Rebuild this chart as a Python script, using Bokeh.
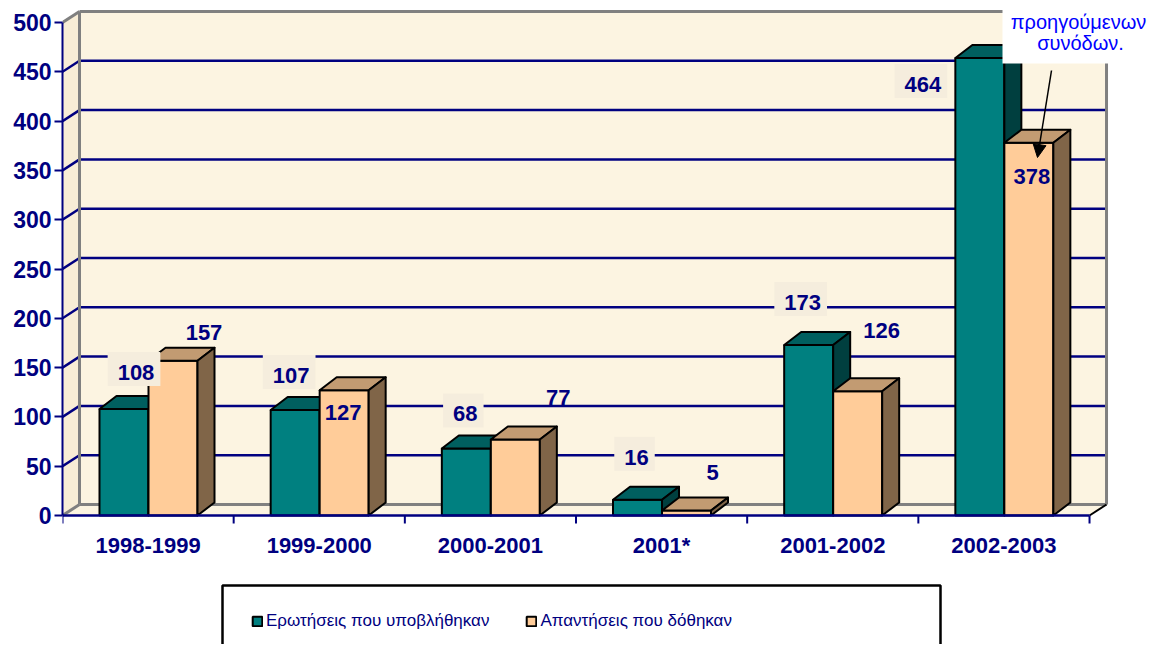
from bokeh.plotting import figure
from bokeh.models import Range1d, FixedTicker, Legend, LegendItem, Arrow, NormalHead
from bokeh.core.properties import value
from bokeh.embed import file_html
from bokeh.resources import INLINE

# ---------------- data ----------------
categories = ["1998-1999", "1999-2000", "2000-2001", "2001*", "2001-2002", "2002-2003"]
questions = [108, 107, 68, 16, 173, 464]
answers = [157, 127, 77, 5, 126, 378]
y_ticks = [0, 50, 100, 150, 200, 250, 300, 350, 400, 450, 500]
series_labels = ["Ερωτήσεις που υποβλήθηκαν", "Απαντήσεις που δόθηκαν"]
note_lines = ["προηγούμενων", "συνόδων."]

# label placement offsets in screen pixels (positive dy = down)
q_label_dx = [10, -6, -3, -3, -8, -59]
q_label_dy = [-40, -38, -38, -46, -46, 23]
a_label_dx = [31, -1, 43, 26, 24, 3]
a_label_dy = [-28, 22, -42, -38, -61, 34]

# ---------------- layout / style ----------------
W, H = 1150, 644
AXIS_W = 62            # left axis panel width (canvas px)
PX_CAT = 171.17        # px per category
PX_UNIT = 0.986        # px per value unit
ZERO_CANVAS = 515      # canvas y of value 0
MARGIN = 0

NAVY = "#000080"
GRAY = "#808080"
WALL = "#FCF4E1"
SIDE_WALL = "#F8EDD6"
FONT = value("Liberation Sans")

TEAL = ("#008080", "#005F5F", "#003F3F")
PEACH = ("#FFCC99", "#C29B72", "#806548")

n = len(categories)
OFF = 37 / PX_CAT
BW = 49 / PX_CAT
DX = 17 / PX_CAT
DYB = 13 / PX_UNIT
DYW = 11 / PX_UNIT
TICK = 8 / PX_UNIT
top_val = y_ticks[-1]


def sx(px):  # screenshot px -> data x
    return (px - MARGIN - AXIS_W) / PX_CAT


def sy(py):  # screenshot px -> data y
    return (ZERO_CANVAS - (py - MARGIN)) / PX_UNIT


p = figure(width=W, height=H, output_backend="svg", toolbar_location=None,
           x_axis_location=None,
           x_range=Range1d(0, (W - AXIS_W) / PX_CAT),
           y_range=Range1d(-(H - ZERO_CANVAS) / PX_UNIT, ZERO_CANVAS / PX_UNIT),
           min_border_left=AXIS_W, min_border_right=0, min_border_top=0, min_border_bottom=0)
p.outline_line_color = None
p.background_fill_color = "white"
p.border_fill_color = "white"
p.xgrid.visible = False
p.ygrid.visible = False

# y axis
ax = p.yaxis[0]
ax.ticker = FixedTicker(ticks=y_ticks)
ax.bounds = (y_ticks[0], top_val)
ax.axis_line_color = NAVY
ax.axis_line_width = 2
ax.major_tick_line_color = NAVY
ax.major_tick_line_width = 2
ax.major_tick_out = 8
ax.major_tick_in = 0
ax.minor_tick_line_color = None
ax.major_label_standoff = 3
ax.major_label_text_font = "Liberation Sans"
ax.major_label_text_font_style = "bold"
ax.major_label_text_font_size = "23px"
ax.major_label_text_color = NAVY

# walls
p.quad(left=DX, right=n + DX, bottom=DYW, top=top_val + DYW, fill_color=WALL, line_color=None)
p.patch([0, DX, DX, 0], [0, DYW, top_val + DYW, top_val], fill_color=SIDE_WALL, line_color=None)
p.patch([0, n, n + DX, DX], [0, 0, DYW, DYW], fill_color=WALL, line_color=None)

inner = y_ticks[1:-1]
p.segment(x0=[DX] * len(inner), x1=[n + DX] * len(inner),
          y0=[v + DYW for v in inner], y1=[v + DYW for v in inner],
          line_color=NAVY, line_width=2.5)
p.segment(x0=[0] * len(inner), x1=[DX] * len(inner),
          y0=inner, y1=[v + DYW for v in inner], line_color=NAVY, line_width=2.5)

p.multi_line(xs=[[DX, n + DX], [DX, DX], [n + DX, n + DX], [DX, n + DX], [0, DX], [0, DX]],
             ys=[[top_val + DYW] * 2, [DYW, top_val + DYW], [DYW, top_val + DYW], [DYW, DYW],
                 [top_val, top_val + DYW], [0, DYW]],
             line_color=GRAY, line_width=3)
p.segment(x0=[n], y0=[0], x1=[n + DX], y1=[DYW], line_color="black", line_width=2)


# bars
def parts(vals, s):
    fr_x, fr_y, tp_x, tp_y, sd_x, sd_y = [], [], [], [], [], []
    for i, v in enumerate(vals):
        x0 = i + OFF + s * BW
        x1 = x0 + BW
        fr_x.append([x0, x1, x1, x0]); fr_y.append([0, 0, v, v])
        tp_x.append([x0, x1, x1 + DX, x0 + DX]); tp_y.append([v, v, v + DYB, v + DYB])
        sd_x.append([x1, x1 + DX, x1 + DX, x1]); sd_y.append([0, DYB, v + DYB, v])
    return fr_x, fr_y, tp_x, tp_y, sd_x, sd_y


renderers = []
for s, (vals, cols) in enumerate([(questions, TEAL), (answers, PEACH)]):
    fx, fy, tx, ty, dx_, dy_ = parts(vals, s)
    r = p.patches(fx, fy, fill_color=cols[0], line_color="black", line_width=2)
    p.patches(tx, ty, fill_color=cols[1], line_color="black", line_width=2, line_join="round")
    p.patches(dx_, dy_, fill_color=cols[2], line_color="black", line_width=2, line_join="round")
    renderers.append(r)

# x axis
p.segment(x0=[0], y0=[0], x1=[n], y1=[0], line_color=NAVY, line_width=2.5)
p.segment(x0=list(range(n + 1)), y0=[0] * (n + 1), x1=list(range(n + 1)), y1=[-TICK] * (n + 1),
          line_color=NAVY, line_width=2)
p.text(x=[i + 0.5 for i in range(n)], y=[0] * n, text=categories, y_offset=30,
       text_align="center", text_baseline="middle", text_font=FONT, text_font_style="bold",
       text_font_size="22px", text_color=NAVY)

# data labels
q_x = [i + OFF + 0.5 * BW for i in range(n)]
a_x = [i + OFF + 1.5 * BW for i in range(n)]
p.text(x=q_x, y=questions, text=[str(v) for v in questions], x_offset=q_label_dx, y_offset=q_label_dy,
       text_align="center", text_baseline="middle", text_font=FONT, text_font_style="bold",
       text_font_size="22px", text_color=NAVY, background_fill_color="#F5EDDD",
       padding=(10, 6, 13, 6))
p.text(x=a_x, y=answers, text=[str(v) for v in answers], x_offset=a_label_dx, y_offset=a_label_dy,
       text_align="center", text_baseline="middle", text_font=FONT, text_font_style="bold",
       text_font_size="22px", text_color=NAVY)

# note box with arrow
p.quad(left=sx(1002), right=sx(1170), bottom=sy(63), top=sy(-10), fill_color="white", line_color=None)
p.text(x=[sx(1078), sx(1080)], y=[sy(21), sy(42)], text=note_lines, text_align="center",
       text_baseline="middle", text_font=FONT, text_font_size="20px", text_color="#0000FF")
p.add_layout(Arrow(x_start=sx(1051), y_start=sy(70), x_end=sx(1037), y_end=sy(157),
                   line_color="black", line_width=1.5,
                   end=NormalHead(size=13, fill_color="black", line_color="black")))

# legend frame
p.quad(left=sx(222), right=sx(940), top=sy(585), bottom=sy(700), fill_color=None,
       line_color="black", line_width=2.5)
legend = Legend(items=[LegendItem(label=series_labels[0], renderers=[renderers[0]]),
                       LegendItem(label=series_labels[1], renderers=[renderers[1]])],
                location=(189, 13), orientation="horizontal", border_line_color=None,
                background_fill_alpha=0, padding=0, margin=0, spacing=36,
                glyph_width=12, glyph_height=12, label_standoff=3,
                label_text_font="Liberation Sans", label_text_font_size="17px",
                label_text_color=NAVY)
p.add_layout(legend)

open("out.html", "w").write(file_html(p, INLINE))
